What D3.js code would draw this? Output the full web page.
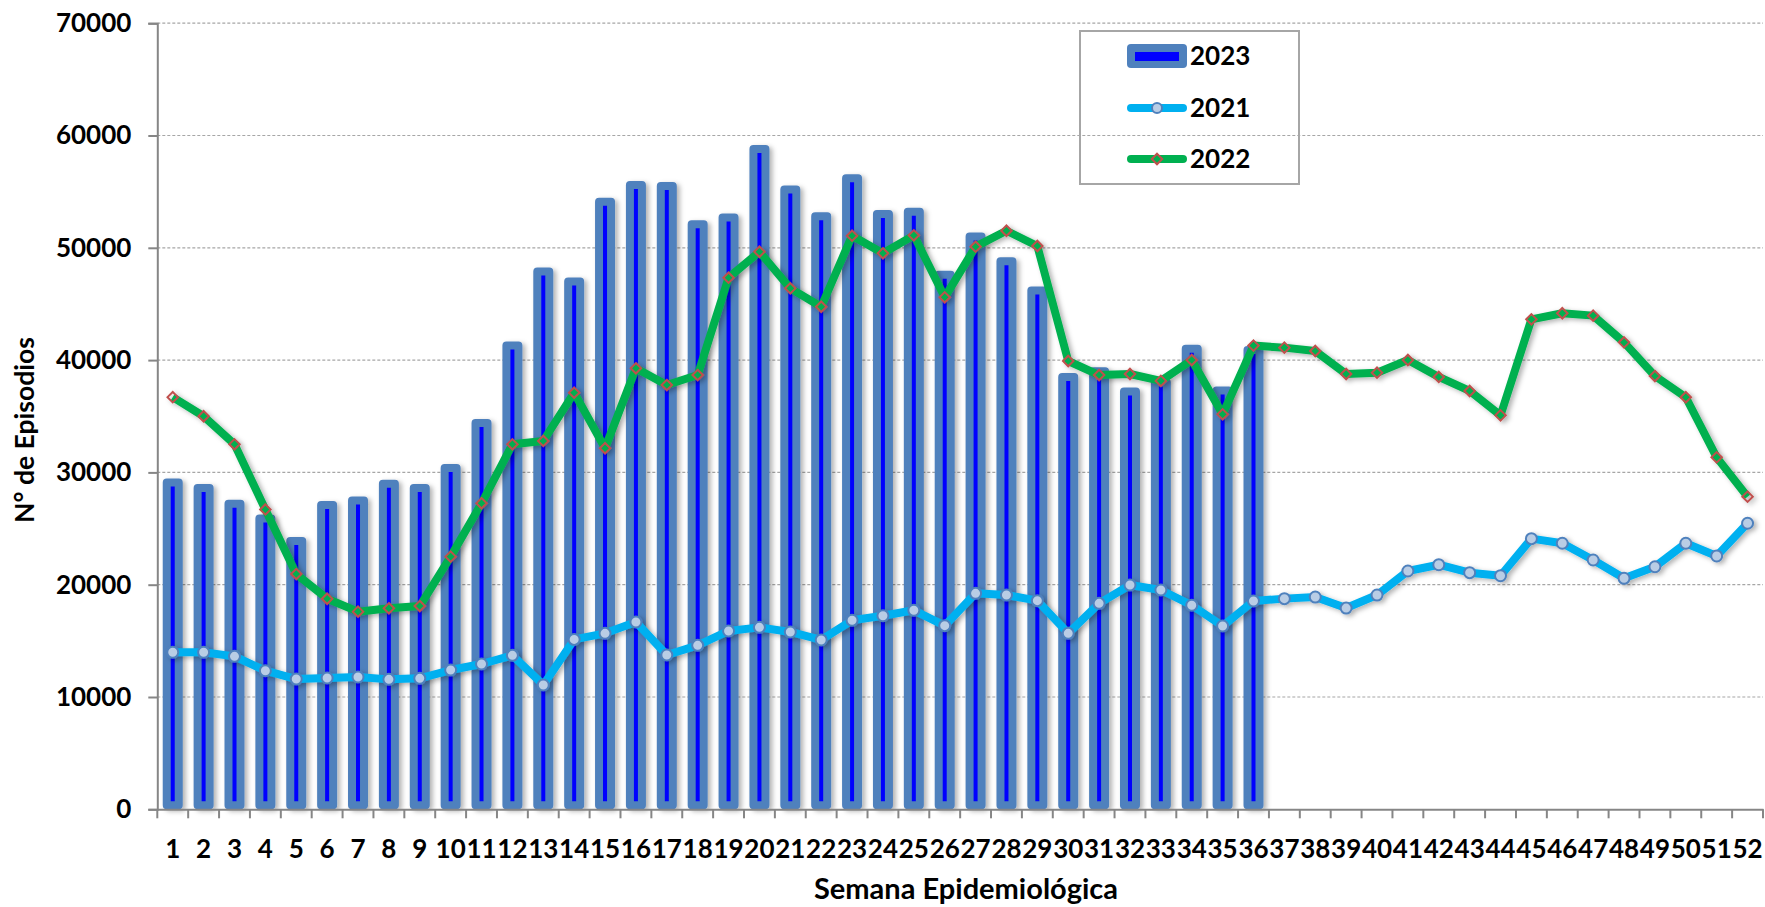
<!DOCTYPE html>
<html>
<head>
<meta charset="utf-8">
<script src="https://d3js.org/d3.v7.min.js"></script>
<style>
  body {margin: 0; background: #fff; font-family: Lato, "Open Sans", sans-serif;}
  .axis text {font: bold 26px Lato, sans-serif; fill: #000;}
  .title {font: bold 26.5px Lato, sans-serif; fill: #000;}
  .xtitle {font: bold 29px Lato, sans-serif; fill: #000;}
  .legend text {font: bold 26px Lato, sans-serif; fill: #000;}
</style>
</head>
<body>
<svg id="chart" width="1765" height="907"></svg>

<script>
// semanas epidemiologicas 1..52
var weeks = d3.range(1, 53);

// 2023 (solo hasta semana 36)
var values2023 = [29100, 28600, 27200, 25900, 23900, 27100, 27500, 29000, 28600, 30400,
                  34400, 41300, 47900, 47000, 54100, 55600, 55500, 52100, 52700, 58800,
                  55200, 52800, 56200, 53000, 53200, 47600, 51000, 48800, 46200, 38500,
                  39000, 37200, 38000, 41000, 37300, 40900];

var values2021 = [13980, 13980, 13620, 12340, 11600, 11690, 11780, 11570, 11660, 12400,
                  12940, 13710, 11070, 15130, 15670, 16680, 13740, 14600, 15880, 16200,
                  15790, 15080, 16830, 17240, 17720, 16350, 19230, 19080, 18580, 15670,
                  18340, 19970, 19530, 18170, 16320, 18550, 18760, 18900, 17920, 19080,
                  21220, 21780, 21070, 20800, 24100, 23690, 22200, 20570, 21600, 23690,
                  22560, 25470];

var values2022 = [36700, 35000, 32500, 26700, 20950, 18750, 17600, 17900, 18100, 22500,
                  27250, 32500, 32800, 37100, 32150, 39270, 37780, 38670, 47340, 49650,
                  46390, 44750, 51080, 49510, 51110, 45590, 50100, 51520, 50160, 39920,
                  38670, 38760, 38150, 40010, 35170, 41290, 41110, 40810, 38760, 38880,
                  40010, 38500, 37250, 35080, 43630, 44170, 43960, 41580, 38580, 36690,
                  31340, 27840];

var yTicks = [0, 10000, 20000, 30000, 40000, 50000, 60000, 70000];
var seriesNames = ["2023", "2021", "2022"];

var svg = d3.select("#chart");
var plotLeft = 157.3, plotRight = 1763, plotTop = 23.2, plotBottom = 809.3;

var x = d3.scaleBand()
    .domain(weeks)
    .range([plotLeft, plotRight])
    .padding(0);

var y = d3.scaleLinear()
    .domain([0, 70000])
    .range([plotBottom, plotTop]);

// sombra tipo excel
var defs = svg.append("defs");
var f = defs.append("filter").attr("id", "shadow")
    .attr("x", "-50%").attr("y", "-10%").attr("width", "200%").attr("height", "120%");
f.append("feDropShadow")
    .attr("dx", 3).attr("dy", 2)
    .attr("stdDeviation", 2.5)
    .attr("flood-color", "#000")
    .attr("flood-opacity", 0.3);

// grid
svg.append("g")
    .selectAll("line")
    .data(yTicks.slice(1))
    .enter().append("line")
    .attr("x1", plotLeft).attr("x2", plotRight)
    .attr("y1", function(d) { return y(d); })
    .attr("y2", function(d) { return y(d); })
    .attr("stroke", "#a6a6a6")
    .attr("stroke-width", 1.2)
    .attr("stroke-dasharray", "3,2");

// barras 2023
var bw = 12;
svg.append("g")
    .attr("filter", "url(#shadow)")
    .selectAll("rect")
    .data(values2023)
    .enter().append("rect")
    .attr("x", function(d, i) { return x(weeks[i]) + x.bandwidth() / 2 - bw / 2; })
    .attr("y", function(d) { return y(d); })
    .attr("width", bw)
    .attr("height", function(d) { return y(0) - 4 - y(d); })
    .attr("fill", "#0000ff")
    .attr("stroke", "#4f81bd")
    .attr("stroke-width", 8)
    .attr("stroke-linejoin", "round");

// ejes
var yAxis = svg.append("g")
    .attr("class", "axis")
    .attr("transform", "translate(" + plotLeft + ",0)")
    .call(d3.axisLeft(y).tickValues(yTicks).tickSize(9).tickPadding(17).tickFormat(d3.format("d")));

var xAxis = svg.append("g")
    .attr("class", "axis")
    .attr("transform", "translate(0," + plotBottom + ")")
    .call(d3.axisBottom(x).tickSize(0).tickPadding(30));

svg.selectAll(".axis .domain").attr("stroke", "#868686").attr("stroke-width", 2);
yAxis.selectAll(".tick line").attr("stroke", "#868686").attr("stroke-width", 2);

// marcas del eje x en los limites de cada banda
svg.append("g")
    .selectAll("line")
    .data(weeks.concat([53]))
    .enter().append("line")
    .attr("x1", function(d) { return d <= 52 ? x(d) : x(52) + x.bandwidth(); })
    .attr("x2", function(d) { return d <= 52 ? x(d) : x(52) + x.bandwidth(); })
    .attr("y1", plotBottom).attr("y2", plotBottom + 9)
    .attr("stroke", "#868686")
    .attr("stroke-width", 2);

var line = d3.line()
    .x(function(d, i) { return x(weeks[i]) + x.bandwidth() / 2; })
    .y(function(d) { return y(d); });

// 2021
var g21 = svg.append("g").attr("filter", "url(#shadow)");
g21.append("path")
    .datum(values2021)
    .attr("d", line)
    .attr("fill", "none")
    .attr("stroke", "#00b0f0")
    .attr("stroke-width", 8)
    .attr("stroke-linejoin", "round");
g21.selectAll("circle")
    .data(values2021)
    .enter().append("circle")
    .attr("cx", function(d, i) { return x(weeks[i]) + x.bandwidth() / 2; })
    .attr("cy", function(d) { return y(d); })
    .attr("r", 5.5)
    .attr("fill", "#b9cde5")
    .attr("stroke", "#4f81bd")
    .attr("stroke-width", 2);

// 2022
var diamond = d3.symbol().type(d3.symbolDiamond2).size(70);
var g22 = svg.append("g").attr("filter", "url(#shadow)");
g22.append("path")
    .datum(values2022)
    .attr("d", line)
    .attr("fill", "none")
    .attr("stroke", "#00b050")
    .attr("stroke-width", 8)
    .attr("stroke-linejoin", "round");
g22.selectAll(".mk")
    .data(values2022)
    .enter().append("path")
    .attr("class", "mk")
    .attr("d", diamond)
    .attr("transform", function(d, i) { return "translate(" + (x(weeks[i]) + x.bandwidth() / 2) + "," + y(d) + ")"; })
    .attr("fill", "none")
    .attr("stroke", "#c0504d")
    .attr("stroke-width", 2);

// titulos
svg.append("text")
    .attr("class", "title")
    .attr("text-anchor", "middle")
    .attr("transform", "translate(34,430) rotate(-90)")
    .text("N° de Episodios");

svg.append("text")
    .attr("class", "xtitle")
    .attr("text-anchor", "middle")
    .attr("x", 966).attr("y", 899)
    .text("Semana Epidemiológica");

// leyenda
var legend = svg.append("g").attr("class", "legend");
legend.append("rect")
    .attr("x", 1080).attr("y", 31)
    .attr("width", 219).attr("height", 153)
    .attr("fill", "none")
    .attr("stroke", "#a6a6a6")
    .attr("stroke-width", 2);

var rows = legend.selectAll("g")
    .data(seriesNames)
    .enter().append("g")
    .attr("transform", function(d, i) { return "translate(1127," + [56, 108, 159][i] + ")"; });

rows.append("text")
    .attr("x", 63)
    .attr("dy", "0.36em")
    .text(function(d) { return d; });

var r0 = d3.select(rows.nodes()[0]);
r0.append("rect").attr("x", 0).attr("y", -12).attr("width", 60).attr("height", 24)
    .attr("rx", 4).attr("fill", "#4f81bd");
r0.append("rect").attr("x", 8).attr("y", -4).attr("width", 44).attr("height", 9)
    .attr("fill", "#0000ff");

var r1 = d3.select(rows.nodes()[1]);
r1.append("line").attr("x1", 4).attr("x2", 56)
    .attr("stroke", "#00b0f0").attr("stroke-width", 8).attr("stroke-linecap", "round");
r1.append("circle").attr("cx", 30).attr("r", 5)
    .attr("fill", "#b9cde5").attr("stroke", "#4f81bd").attr("stroke-width", 2);

var r2 = d3.select(rows.nodes()[2]);
r2.append("line").attr("x1", 4).attr("x2", 56)
    .attr("stroke", "#00b050").attr("stroke-width", 8).attr("stroke-linecap", "round");
r2.append("path").attr("d", diamond).attr("transform", "translate(30,0)")
    .attr("fill", "none").attr("stroke", "#c0504d").attr("stroke-width", 2);
</script>
</body>
</html>
